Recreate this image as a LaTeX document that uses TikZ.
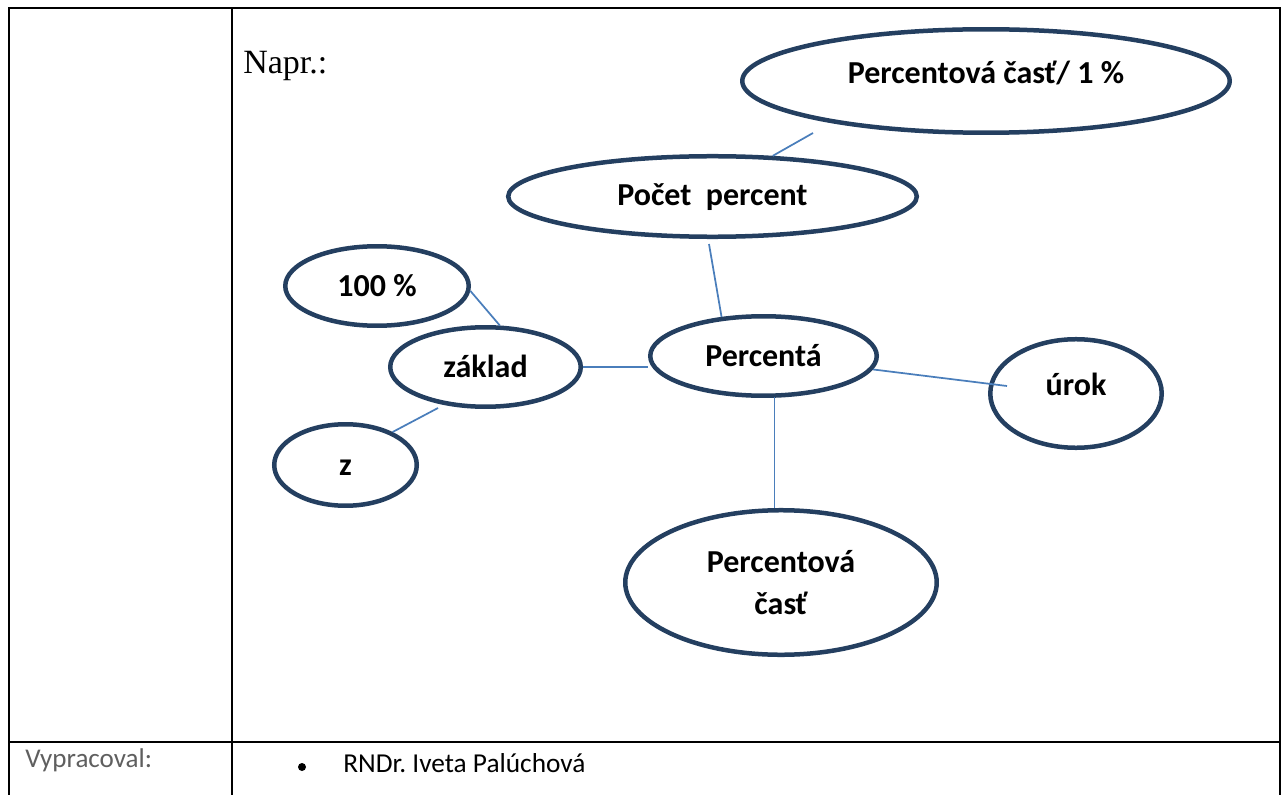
\documentclass[tikz,border=0pt]{standalone}
\usepackage{fontspec}
\setmainfont{Carlito}
\newfontfamily\tmsfont{Liberation Serif}
\newfontfamily\carfont{Carlito}
\usetikzlibrary{shapes.geometric,calc}
\frenchspacing
\definecolor{navy}{HTML}{243F60}
\definecolor{conn}{HTML}{4A7EBB}
\definecolor{graytxt}{HTML}{5F5F5F}
\tikzset{
  ell/.style={ellipse, draw=navy, line width=3.375pt, inner sep=0pt,
    font=\carfont\bfseries\fontsize{24}{31.5}\selectfont, text=black},
  one/.style={text height=15.5pt},
  conline/.style={draw=conn, line width=1.3pt},
  tabline/.style={draw=black, line width=1.9pt}
}
\begin{document}
\begin{tikzpicture}[x=0.75pt,y=-0.75pt]
\useasboundingbox (0,0) rectangle (1282,795);
% table
\draw[tabline] (9,800) -- (9,8) -- (1280,8) -- (1280,800);
\draw[tabline] (232,8) -- (232,800);
\draw[tabline] (9,742) -- (1280,742);
% texts
\node[anchor=base west, inner sep=0pt, font=\tmsfont\fontsize{25.5}{30}\selectfont] (napr) at (243,74) {Napr.:};
\node[anchor=base west, inner sep=0pt, text=graytxt, font=\carfont\fontsize{20.3}{24}\selectfont] (vyp) at (25,767) {Vypracoval:};
\node[circle, fill=black, inner sep=0pt, minimum size=6pt] (bul) at (302,767) {};
\node[anchor=base west, inner sep=0pt, font=\carfont\fontsize{20.5}{24}\selectfont] (aut) at (343,772) {RNDr. Iveta Palúchová};
% ellipses
\node[ell, one, text depth=11pt, minimum width=365.6pt, minimum height=77.6pt] (p1) at (986,81) {Percentová časť/ 1 \%};
\node[ell, one, text depth=2pt, minimum width=306.4pt, minimum height=60.4pt] (pp) at (712.5,196.5) {Počet\ \ percent};
\node[ell, one, text depth=0pt, minimum width=137.6pt, minimum height=59.6pt] (hu) at (377,286) {100 \%};
\node[ell, one, text depth=0pt, minimum width=142.9pt, minimum height=59.6pt] (zk) at (485.5,367) {základ};
\node[ell, one, text depth=0pt, minimum width=106.9pt, minimum height=61.1pt] (z) at (345.5,465) {z};
\node[ell, one, text depth=0pt, minimum width=169.9pt, minimum height=59.6pt] (pa) at (763.5,356) {Percentá};
\node[ell, one, text depth=13.25pt, minimum width=128.6pt, minimum height=81.4pt] (ur) at (1076,393.5) {úrok};
\node[ell, align=center, minimum width=233.6pt, minimum height=108.4pt] (pc) at (781,582.5) {Percentová\\časť};
% connector free ends
\coordinate (c1) at (813,133);
\coordinate (c2) at (709,244);
\coordinate (c5) at (438,408);
\coordinate (c6) at (1007,386);
\coordinate (c7) at (774.5,397);
% connectors
\draw[conline] (pp.34) -- (c1);
\draw[conline] (c2) -- (pa.137);
\draw[conline] (hu.-3) -- (zk.71);
\draw[conline] (zk.east) -- (zk.east -| pa.west);
\draw[conline] (c5) -- (z.35);
\draw[conline] (pa.-7) -- (c6);
\draw[conline] (c7) -- (c7 |- pc.north);
\end{tikzpicture}
\end{document}
